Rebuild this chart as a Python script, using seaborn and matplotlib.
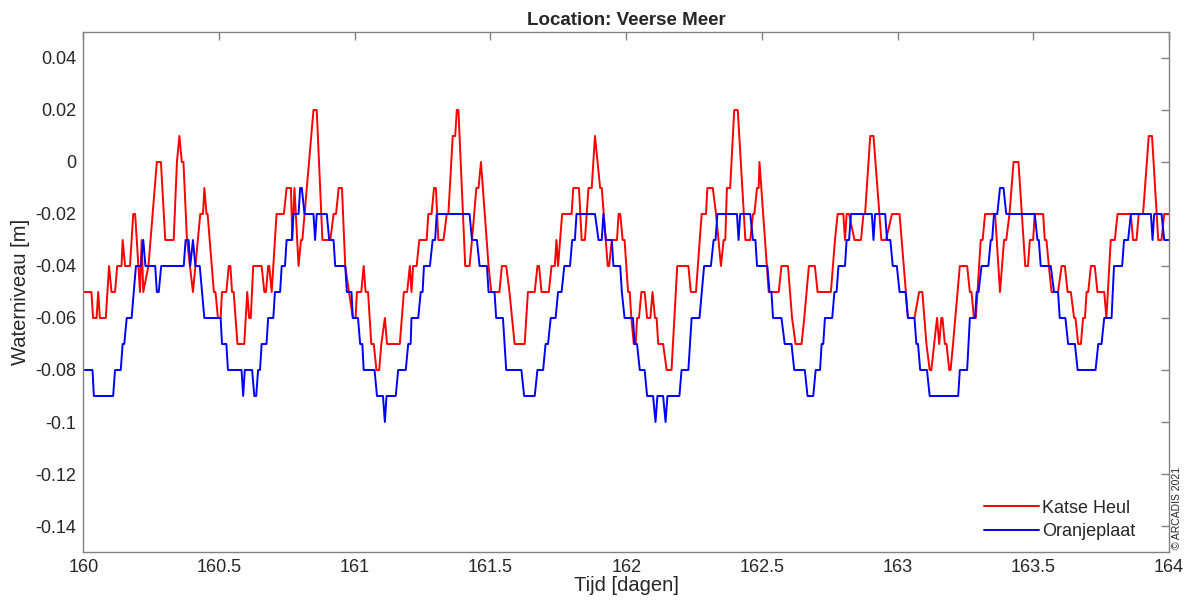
import matplotlib
matplotlib.use("Agg")
import matplotlib.pyplot as plt
import seaborn as sns
import pandas as pd
from matplotlib.ticker import FuncFormatter

# Katse Heul (red): vertices of the polyline, time in days / water level in m
katse_t = [
    160.000, 160.030, 160.036, 160.049, 160.055, 160.061, 160.083, 160.095, 160.104, 160.117,
    160.125, 160.141, 160.145, 160.154, 160.172, 160.184, 160.191, 160.209, 160.215, 160.221,
    160.240, 160.271, 160.286, 160.302, 160.333, 160.345, 160.354, 160.363, 160.369, 160.382,
    160.404, 160.431, 160.441, 160.446, 160.454, 160.458, 160.481, 160.487,
    160.496, 160.506, 160.511, 160.527, 160.536, 160.542, 160.548, 160.554, 160.568, 160.593,
    160.604, 160.611, 160.617, 160.626, 160.657, 160.667, 160.673, 160.681, 160.685, 160.694,
    160.712, 160.739, 160.749, 160.765, 160.770, 160.778, 160.793, 160.802, 160.807, 160.848,
    160.860, 160.881, 160.910, 160.922, 160.931, 160.941, 160.953, 160.965,
    160.993, 161.003, 161.008, 161.024, 161.033, 161.040, 161.049, 161.061, 161.070, 161.080,
    161.090, 161.098, 161.111, 161.119, 161.166, 161.181, 161.193, 161.203, 161.209, 161.215,
    161.228, 161.238, 161.265, 161.271, 161.283, 161.292, 161.299, 161.308, 161.327, 161.339,
    161.345, 161.361, 161.370, 161.376, 161.382, 161.407, 161.423, 161.432, 161.448, 161.456,
    161.465, 161.472, 161.493,
    161.503, 161.533, 161.542, 161.558, 161.570, 161.589, 161.626, 161.638, 161.663, 161.673,
    161.679, 161.688, 161.715, 161.725, 161.737, 161.743, 161.749, 161.764, 161.799, 161.805,
    161.826, 161.836, 161.848, 161.861, 161.873, 161.885, 161.904, 161.910, 161.932, 161.937,
    161.947, 161.966, 161.972, 161.978, 161.987,
    161.994, 162.007, 162.013, 162.019, 162.028, 162.035, 162.040, 162.047, 162.056, 162.068,
    162.077, 162.089, 162.097, 162.106, 162.112, 162.118, 162.136, 162.149, 162.167, 162.188,
    162.229, 162.238, 162.257, 162.278, 162.294, 162.299, 162.319, 162.331, 162.349, 162.359,
    162.365, 162.371, 162.383, 162.398, 162.411, 162.439, 162.457, 162.467, 162.472, 162.482,
    162.488,
    162.491, 162.525, 162.562, 162.572, 162.596, 162.611, 162.624, 162.646, 162.656, 162.673,
    162.695, 162.705, 162.754, 162.769, 162.779, 162.800, 162.806, 162.812, 162.821, 162.841,
    162.865, 162.874, 162.880, 162.899, 162.911, 162.940, 162.957, 162.979,
    163.007, 163.038, 163.062, 163.079, 163.091, 163.106, 163.118, 163.124, 163.145, 163.153,
    163.161, 163.165, 163.174, 163.180, 163.190, 163.195, 163.204, 163.229, 163.256, 163.266,
    163.272, 163.281, 163.288, 163.306, 163.313, 163.322, 163.359, 163.377, 163.392, 163.400,
    163.412, 163.427, 163.445, 163.470, 163.480,
    163.487, 163.499, 163.505, 163.536, 163.542, 163.548, 163.557, 163.567, 163.591, 163.604,
    163.616, 163.626, 163.638, 163.650, 163.655, 163.665, 163.675, 163.683, 163.690, 163.696,
    163.702, 163.712, 163.726, 163.736, 163.761, 163.769, 163.785, 163.800, 163.810, 163.859,
    163.867, 163.880, 163.888, 163.904, 163.925, 163.937, 163.960, 163.972, 163.982, 164.000,
]
katse_h = [
    -0.05, -0.05, -0.06, -0.06, -0.05, -0.06, -0.06, -0.04, -0.05, -0.05,
    -0.04, -0.04, -0.03, -0.04, -0.04, -0.02, -0.02, -0.05, -0.03, -0.05,
    -0.04, 0.00, 0.00, -0.03, -0.03, 0.00, 0.01, 0.00, 0.00, -0.03,
    -0.05, -0.02, -0.02, -0.01, -0.02, -0.02, -0.05, -0.05,
    -0.06, -0.06, -0.05, -0.05, -0.04, -0.04, -0.05, -0.05, -0.07, -0.07,
    -0.05, -0.06, -0.06, -0.04, -0.04, -0.05, -0.05, -0.04, -0.04, -0.05,
    -0.02, -0.02, -0.01, -0.01, -0.03, -0.01, -0.04, -0.03, -0.03, 0.02,
    0.02, -0.03, -0.03, -0.02, -0.02, -0.01, -0.01, -0.04,
    -0.06, -0.06, -0.05, -0.05, -0.04, -0.05, -0.05, -0.07, -0.07, -0.08,
    -0.08, -0.07, -0.06, -0.07, -0.07, -0.05, -0.05, -0.04, -0.05, -0.04,
    -0.04, -0.03, -0.03, -0.02, -0.02, -0.01, -0.01, -0.03, -0.03, -0.02,
    -0.02, 0.01, 0.01, 0.02, 0.02, -0.04, -0.04, -0.03, -0.01, -0.01,
    0.00, -0.01, -0.04,
    -0.05, -0.05, -0.04, -0.04, -0.05, -0.07, -0.07, -0.05, -0.05, -0.04,
    -0.04, -0.05, -0.05, -0.04, -0.04, -0.03, -0.04, -0.02, -0.02, -0.01,
    -0.01, -0.03, -0.03, -0.01, -0.01, 0.01, -0.01, -0.01, -0.04, -0.04,
    -0.03, -0.03, -0.02, -0.02, -0.03,
    -0.03, -0.05, -0.05, -0.06, -0.07, -0.07, -0.06, -0.06, -0.05, -0.05,
    -0.06, -0.06, -0.05, -0.06, -0.06, -0.07, -0.07, -0.08, -0.08, -0.04,
    -0.04, -0.05, -0.05, -0.02, -0.02, -0.01, -0.01, -0.02, -0.04, -0.03,
    -0.03, -0.01, -0.01, 0.02, 0.02, -0.03, -0.03, -0.02, -0.02, -0.01,
    -0.01,
    0.00, -0.05, -0.05, -0.04, -0.04, -0.06, -0.07, -0.07, -0.06, -0.04,
    -0.04, -0.05, -0.05, -0.03, -0.02, -0.02, -0.03, -0.02, -0.02, -0.03,
    -0.03, -0.02, -0.02, 0.01, 0.01, -0.03, -0.03, -0.02,
    -0.02, -0.06, -0.06, -0.05, -0.05, -0.07, -0.08, -0.08, -0.06, -0.07,
    -0.06, -0.06, -0.07, -0.07, -0.08, -0.08, -0.07, -0.04, -0.04, -0.05,
    -0.05, -0.06, -0.06, -0.03, -0.03, -0.02, -0.02, -0.05, -0.03, -0.03,
    -0.02, 0.00, 0.00, -0.04, -0.04,
    -0.03, -0.03, -0.02, -0.02, -0.03, -0.03, -0.04, -0.05, -0.05, -0.04,
    -0.04, -0.05, -0.05, -0.06, -0.06, -0.07, -0.07, -0.06, -0.06, -0.05,
    -0.05, -0.04, -0.04, -0.05, -0.05, -0.06, -0.03, -0.03, -0.02, -0.02,
    -0.03, -0.03, -0.02, -0.02, 0.01, 0.01, -0.03, -0.03, -0.02, -0.02,
]

# Oranjeplaat (blue)
oranje_t = [
    160.000, 160.034, 160.039, 160.110, 160.117, 160.138, 160.145, 160.151, 160.160, 160.178,
    160.194, 160.212, 160.221, 160.229, 160.265, 160.271, 160.278, 160.287, 160.370, 160.377,
    160.388, 160.394, 160.404, 160.413, 160.429, 160.446,
    160.506, 160.511, 160.527, 160.533, 160.583, 160.589, 160.595, 160.622, 160.630, 160.637,
    160.644, 160.651, 160.657, 160.675, 160.681, 160.700, 160.706, 160.725, 160.731, 160.743,
    160.749, 160.768, 160.774, 160.793, 160.799, 160.805, 160.815, 160.848, 160.854, 160.860,
    160.897, 160.906, 160.922, 160.928, 160.965, 160.971, 160.988,
    160.993, 161.012, 161.020, 161.028, 161.033, 161.073, 161.082, 161.104, 161.111, 161.117,
    161.151, 161.160, 161.188, 161.197, 161.206, 161.209, 161.234, 161.243, 161.250, 161.255,
    161.277, 161.287, 161.296, 161.302, 161.423, 161.432, 161.450, 161.460, 161.487,
    161.493, 161.515, 161.521, 161.546, 161.558, 161.614, 161.624, 161.663, 161.673, 161.694,
    161.703, 161.712, 161.722, 161.740, 161.749, 161.762, 161.772, 161.793, 161.801, 161.811,
    161.817, 161.885, 161.898, 161.910, 161.916, 161.925, 161.947, 161.953, 161.978, 161.984,
    161.994, 162.025, 162.031, 162.040, 162.050, 162.068, 162.077, 162.099, 162.108, 162.115,
    162.136, 162.145, 162.152, 162.196, 162.204, 162.229, 162.241, 162.270, 162.287, 162.312,
    162.322, 162.329, 162.336, 162.408, 162.414, 162.420, 162.457, 162.467, 162.476, 162.482,
    162.520, 162.528, 162.535, 162.541, 162.572, 162.584, 162.609, 162.619, 162.658, 162.668,
    162.689, 162.698, 162.714, 162.720, 162.726, 162.732, 162.759, 162.767, 162.775, 162.782,
    162.806, 162.812, 162.821, 162.828, 162.905, 162.911, 162.917, 162.954, 162.961, 162.973,
    162.982,
    162.997, 163.007, 163.029, 163.038, 163.062, 163.069, 163.075, 163.083, 163.108, 163.118,
    163.223, 163.229, 163.256, 163.266, 163.285, 163.291, 163.298, 163.309, 163.334, 163.343,
    163.348, 163.355, 163.367, 163.377, 163.390, 163.400,
    163.505, 163.515, 163.520, 163.527, 163.564, 163.576, 163.591, 163.597, 163.618, 163.628,
    163.653, 163.663, 163.729, 163.739, 163.751, 163.761, 163.788, 163.797, 163.827, 163.834,
    163.849, 163.859, 163.933, 163.939, 163.945, 163.972, 163.982, 164.000,
]
oranje_h = [
    -0.08, -0.08, -0.09, -0.09, -0.08, -0.08, -0.07, -0.07, -0.06, -0.06,
    -0.04, -0.04, -0.03, -0.04, -0.04, -0.05, -0.05, -0.04, -0.04, -0.03,
    -0.03, -0.04, -0.03, -0.04, -0.04, -0.06,
    -0.06, -0.07, -0.07, -0.08, -0.08, -0.09, -0.08, -0.08, -0.09, -0.09,
    -0.08, -0.08, -0.07, -0.07, -0.06, -0.06, -0.05, -0.05, -0.04, -0.04,
    -0.03, -0.03, -0.02, -0.02, -0.01, -0.01, -0.02, -0.02, -0.03, -0.02,
    -0.02, -0.03, -0.03, -0.04, -0.04, -0.05, -0.05,
    -0.06, -0.06, -0.07, -0.07, -0.08, -0.08, -0.09, -0.09, -0.10, -0.09,
    -0.09, -0.08, -0.08, -0.07, -0.07, -0.06, -0.06, -0.05, -0.05, -0.04,
    -0.04, -0.03, -0.03, -0.02, -0.02, -0.03, -0.03, -0.04, -0.04,
    -0.05, -0.05, -0.06, -0.06, -0.08, -0.08, -0.09, -0.09, -0.08, -0.08,
    -0.07, -0.07, -0.06, -0.06, -0.05, -0.05, -0.04, -0.04, -0.03, -0.03,
    -0.02, -0.02, -0.03, -0.03, -0.02, -0.03, -0.03, -0.04, -0.04, -0.05,
    -0.06, -0.06, -0.07, -0.07, -0.08, -0.08, -0.09, -0.09, -0.10, -0.09,
    -0.09, -0.10, -0.09, -0.09, -0.08, -0.08, -0.06, -0.06, -0.04, -0.04,
    -0.03, -0.03, -0.02, -0.02, -0.03, -0.02, -0.02, -0.03, -0.03, -0.04,
    -0.04, -0.05, -0.05, -0.06, -0.06, -0.07, -0.07, -0.08, -0.08, -0.09,
    -0.09, -0.08, -0.08, -0.07, -0.07, -0.06, -0.06, -0.05, -0.05, -0.04,
    -0.04, -0.03, -0.03, -0.02, -0.02, -0.03, -0.02, -0.02, -0.03, -0.03,
    -0.04,
    -0.04, -0.05, -0.05, -0.06, -0.06, -0.07, -0.07, -0.08, -0.08, -0.09,
    -0.09, -0.08, -0.08, -0.06, -0.06, -0.05, -0.05, -0.04, -0.04, -0.03,
    -0.03, -0.02, -0.02, -0.01, -0.01, -0.02,
    -0.02, -0.03, -0.03, -0.04, -0.04, -0.05, -0.05, -0.06, -0.06, -0.07,
    -0.07, -0.08, -0.08, -0.07, -0.07, -0.06, -0.06, -0.04, -0.04, -0.03,
    -0.03, -0.02, -0.02, -0.03, -0.02, -0.02, -0.03, -0.03,
]

locations = ["Katse Heul", "Oranjeplaat"]
colors = ["#ff0000", "#0000ff"]
x_ticks = [160, 160.5, 161, 161.5, 162, 162.5, 163, 163.5, 164]
y_ticks = [0.04, 0.02, 0.0, -0.02, -0.04, -0.06, -0.08, -0.1, -0.12, -0.14]

df = pd.concat([
    pd.DataFrame({"t": katse_t, "h": katse_h, "loc": locations[0]}),
    pd.DataFrame({"t": oranje_t, "h": oranje_h, "loc": locations[1]}),
], ignore_index=True)

sns.set_style("white")
plt.rcParams["font.family"] = ["Liberation Sans", "DejaVu Sans"]

fig = plt.figure(figsize=(11.88, 6.07), dpi=100)
ax = fig.add_axes([0.0701, 0.0906, 0.914, 0.8567])

sns.lineplot(data=df, x="t", y="h", hue="loc", palette=dict(zip(locations, colors)),
             sort=False, estimator=None, linewidth=1.4, ax=ax)

ax.set_xlim(160, 164)
ax.set_ylim(-0.15, 0.05)
ax.set_xticks(x_ticks)
ax.set_yticks(y_ticks)
ax.xaxis.set_major_formatter(FuncFormatter(lambda v, p: f"{v:g}"))
ax.yaxis.set_major_formatter(FuncFormatter(lambda v, p: f"{v:g}"))
ax.tick_params(direction="in", length=6, width=1, color="#808080",
               top=True, right=True, labelsize=13, labelcolor="#262626", pad=5)
for s in ax.spines.values():
    s.set_color("#808080")
    s.set_linewidth(1)

ax.set_xlabel("Tijd [dagen]", fontsize=14.5, color="#262626", labelpad=0)
ax.set_ylabel("Waterniveau [m]", fontsize=14.5, color="#262626", labelpad=4)
ax.set_title("Location: Veerse Meer", fontsize=13.5, fontweight="bold", pad=5)

# legend in the lower right corner, no frame (MATLAB look)
ax.legend(loc="lower right", frameon=False, fontsize=13, handlelength=3.0,
          handletextpad=0.2, labelspacing=0.35, bbox_to_anchor=(0.984, -0.008))

fig.text(0.9905, 0.095, "\u00a9 ARCADIS 2021", rotation=90, fontsize=7.5,
         color="#262626", ha="center", va="bottom")

fig.savefig("out.png", dpi=100)
